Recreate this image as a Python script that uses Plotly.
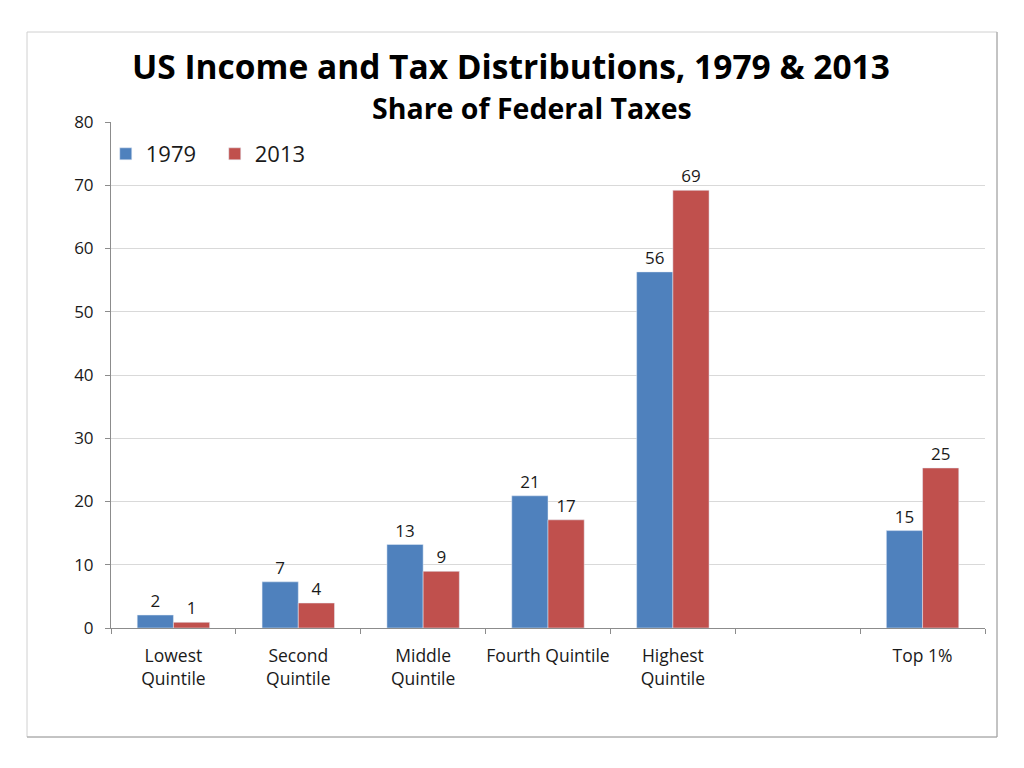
import plotly.graph_objects as go

categories = ["Lowest<br>Quintile", "Second<br>Quintile", "Middle<br>Quintile",
              "Fourth Quintile", "Highest<br>Quintile", " ", "Top 1%"]
share_1979 = [2.05, 7.3, 13.2, 20.9, 56.3, None, 15.4]
share_2013 = [0.9, 3.95, 8.96, 17.1, 69.2, None, 25.3]

FONT = "Open Sans"
LABEL_TMPL = "%{y:.0f}"

fig = go.Figure()
fig.add_trace(go.Bar(name="1979", x=categories, y=share_1979, marker_color="#4F81BD",
                     texttemplate=LABEL_TMPL, textposition="outside",
                     textfont=dict(size=17, color="#1a1a1a", family=FONT), cliponaxis=False))
fig.add_trace(go.Bar(name="2013", x=categories, y=share_2013, marker_color="#C0504D",
                     texttemplate=LABEL_TMPL, textposition="outside",
                     textfont=dict(size=17, color="#1a1a1a", family=FONT), cliponaxis=False))

OFF = 8  # page body margin
W, H = 1024 - 2 * OFF, 768 - 2 * OFF
L = 111 - OFF
T = 122 - OFF
R = W - (985 - OFF)
B = H - (628 - OFF)
pw, ph = W - L - R, H - T - B

def px(x):
    return (x - OFF - L) / pw

def py(y):
    return (H - B - (y - OFF)) / ph

fig.update_layout(
    width=W, height=H,
    margin=dict(l=L, r=R, t=T, b=B),
    paper_bgcolor="white", plot_bgcolor="white",
    barmode="group", bargap=0.42, bargroupgap=0,
    font=dict(family=FONT, color="#1a1a1a"),
    showlegend=True,
    legend=dict(orientation="h", x=-0.006, y=py(154), xanchor="left", yanchor="middle",
                font=dict(size=22, family=FONT, color="#1a1a1a"),
                bgcolor="rgba(0,0,0,0)", itemwidth=30, traceorder="normal",
                entrywidth=64, entrywidthmode="pixels"),
    xaxis=dict(showgrid=False, showline=True, linecolor="#8c8c8c", linewidth=1,
               ticks="outside", tickson="boundaries", ticklen=5, tickcolor="#8c8c8c",
               tickangle=0, ticklabelstandoff=12,
               tickfont=dict(size=17.5, family=FONT, color="#1a1a1a")),
    yaxis=dict(range=[0, 80], dtick=10, showgrid=True, gridcolor="#d9d9d9",
               showline=True, linecolor="#8c8c8c", linewidth=1, zeroline=False,
               ticks="outside", ticklen=5, tickcolor="#8c8c8c", ticklabelstandoff=8,
               tickfont=dict(size=17, family=FONT, color="#1a1a1a")),
    annotations=[
        dict(text="<b>US Income and Tax Distributions, 1979 & 2013</b>", xref="paper", yref="paper",
             x=px(511), y=py(66), xanchor="center", yanchor="middle", showarrow=False,
             font=dict(size=33.5, family=FONT, color="black")),
        dict(text="<b>Share of Federal Taxes</b>", xref="paper", yref="paper",
             x=px(532), y=py(108), xanchor="center", yanchor="middle", showarrow=False,
             font=dict(size=28.5, family=FONT, color="black")),
    ],
    shapes=[
        dict(type="rect", xref="paper", yref="paper", x0=px(27), x1=px(997), y0=py(737), y1=py(32),
             line=dict(color="#d0d0d0", width=1), fillcolor="rgba(0,0,0,0)", layer="below"),
        dict(type="line", xref="paper", yref="paper", x0=px(997), x1=px(997), y0=py(737), y1=py(32),
             line=dict(color="#a0a0a0", width=1)),
        dict(type="line", xref="paper", yref="paper", x0=px(27), x1=px(997), y0=py(737), y1=py(737),
             line=dict(color="#a0a0a0", width=1)),
    ],
)

fig.write_html("out.html")
